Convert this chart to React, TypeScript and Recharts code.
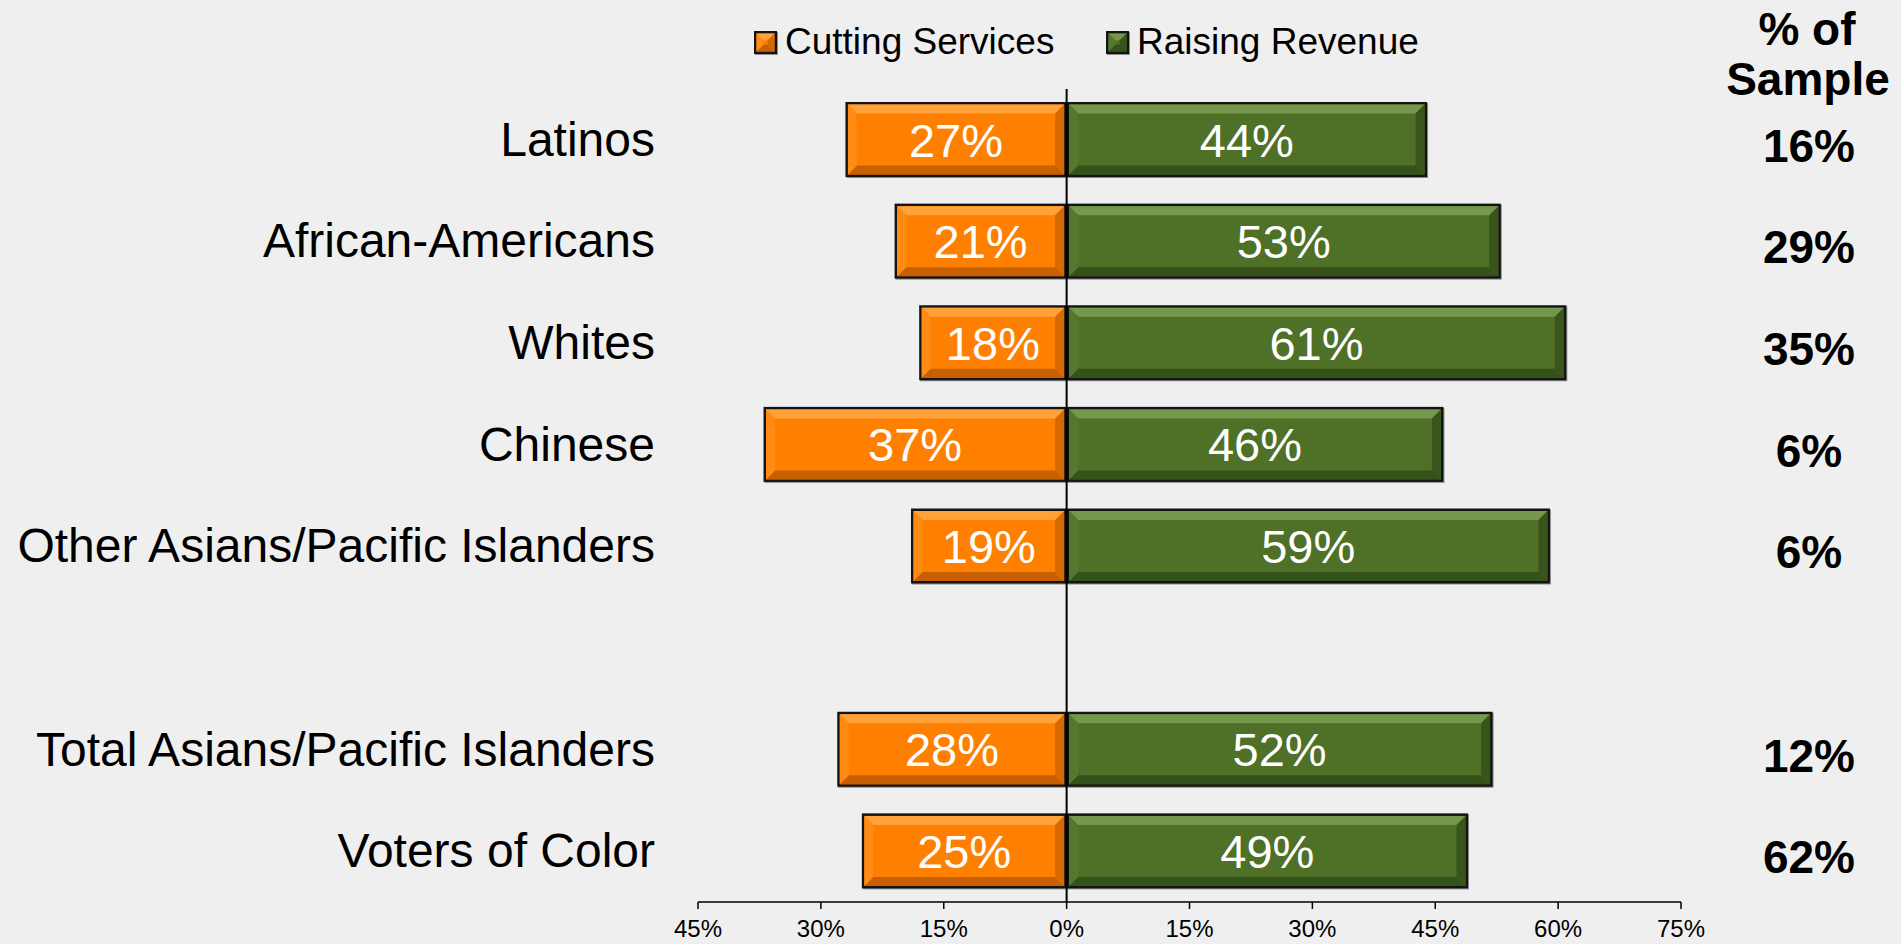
import React from 'react'
import {
  BarChart,
  Bar,
  XAxis,
  YAxis,
  LabelList,
  ReferenceLine,
} from 'recharts'

const FONT = '"Liberation Sans", Arial, sans-serif'

// '' is the empty spacer row between the groups
const categories = [
  'Latinos',
  'African-Americans',
  'Whites',
  'Chinese',
  'Other Asians/Pacific Islanders',
  '',
  'Total Asians/Pacific Islanders',
  'Voters of Color',
]
const cuttingServices = [27, 21, 18, 37, 19, null, 28, 25]
const raisingRevenue = [44, 53, 61, 46, 59, null, 52, 49]
const sampleShare = ['16%', '29%', '35%', '6%', '6%', '', '12%', '62%']
const xTicks = [-45, -30, -15, 0, 15, 30, 45, 60, 75]

const data = categories.map((name, i) => ({
  name,
  cut: cuttingServices[i] == null ? null : -(cuttingServices[i] as number),
  raise: raisingRevenue[i],
}))

interface Palette {
  base: string
  top: string
  bottom: string
  left: string
  right: string
}

const orange: Palette = {
  base: '#FF7F00',
  top: '#FFA23A',
  bottom: '#C85F00',
  left: '#FF8A14',
  right: '#D66A00',
}
const green: Palette = {
  base: '#4F7027',
  top: '#76984C',
  bottom: '#36521B',
  left: '#56782D',
  right: '#39551C',
}

function Bevel({ x, y, w, h, p, b = 9, edge = 2.5 }: any) {
  const ix = x + edge
  const iy = y + edge
  const iw = w - edge * 2
  const ih = h - edge * 2
  const bb = Math.min(b, iw / 2, ih / 2)
  return (
    <g>
      <rect x={x + 1} y={y + 1} width={w} height={h} fill="#8a8a8a" />
      <rect x={x} y={y} width={w} height={h} fill="#141414" />
      <rect x={ix} y={iy} width={iw} height={ih} fill={p.base} />
      <polygon
        points={`${ix},${iy} ${ix + iw},${iy} ${ix + iw - bb},${iy + bb} ${ix + bb},${iy + bb}`}
        fill={p.top}
      />
      <polygon
        points={`${ix},${iy + ih} ${ix + iw},${iy + ih} ${ix + iw - bb},${iy + ih - bb} ${ix + bb},${iy + ih - bb}`}
        fill={p.bottom}
      />
      <polygon
        points={`${ix},${iy} ${ix + bb},${iy + bb} ${ix + bb},${iy + ih - bb} ${ix},${iy + ih}`}
        fill={p.left}
      />
      <polygon
        points={`${ix + iw},${iy} ${ix + iw - bb},${iy + bb} ${ix + iw - bb},${iy + ih - bb} ${ix + iw},${iy + ih}`}
        fill={p.right}
      />
    </g>
  )
}

const makeShape = (p: Palette) => (props: any) => {
  let { x, y, width, height } = props
  if (width == null || height == null) return null
  if (width < 0) {
    x += width
    width = -width
  }
  if (width < 1) return null
  return <Bevel x={x} y={y} w={width} h={height} p={p} />
}

const barLabel = (props: any) => {
  const { x, y, width, height, value } = props
  if (value == null) return null
  return (
    <text
      x={x + width / 2}
      y={y + height / 2 + 17}
      textAnchor="middle"
      fill="#ffffff"
      fontSize={47}
      fontFamily={FONT}
    >
      {Math.abs(value)}%
    </text>
  )
}

const CategoryTick = ({ x, y, payload }: any) => (
  <text x={x} y={y + 16} textAnchor="end" fill="#000" fontSize={48} fontFamily={FONT}>
    {payload.value}
  </text>
)

const SampleTick = ({ x, y, index }: any) => (
  <text
    x={x + 128}
    y={y + 22}
    textAnchor="middle"
    fill="#000"
    fontSize={46}
    fontWeight="bold"
    fontFamily={FONT}
  >
    {sampleShare[index]}
  </text>
)

const PercentTick = ({ x, y, payload }: any) => (
  <text x={x} y={y + 26} textAnchor="middle" fill="#000" fontSize={24} fontFamily={FONT}>
    {Math.abs(payload.value)}%
  </text>
)

export default function App() {
  return (
    <div
      style={{
        position: 'absolute',
        left: 0,
        top: 0,
        width: 1901,
        height: 944,
        background: '#EFEFEF',
        overflow: 'hidden',
      }}
    >
      <BarChart
        width={1901}
        height={944}
        data={data}
        layout="vertical"
        stackOffset="sign"
        barSize={75}
        margin={{ top: 89, right: 0, bottom: 0, left: 0 }}
      >
        <XAxis
          type="number"
          domain={[-45, 75]}
          ticks={xTicks}
          interval={0}
          height={42}
          tick={<PercentTick />}
          tickSize={7}
          axisLine={{ stroke: '#000', strokeWidth: 1.5 }}
          tickLine={{ stroke: '#000', strokeWidth: 1.5 }}
        />
        <YAxis
          type="category"
          dataKey="name"
          width={698}
          axisLine={false}
          tickLine={false}
          tickSize={0}
          tickMargin={43}
          interval={0}
          tick={<CategoryTick />}
        />
        <YAxis
          yAxisId="right"
          orientation="right"
          type="category"
          dataKey="name"
          width={220}
          axisLine={false}
          tickLine={false}
          tickSize={0}
          tickMargin={0}
          interval={0}
          tick={<SampleTick />}
        />
        <Bar
          dataKey="cut"
          stackId="s"
          name="Cutting Services"
          shape={makeShape(orange)}
          isAnimationActive={false}
        >
          <LabelList dataKey="cut" content={barLabel} />
        </Bar>
        <Bar
          dataKey="raise"
          stackId="s"
          name="Raising Revenue"
          shape={makeShape(green)}
          isAnimationActive={false}
        >
          <LabelList dataKey="raise" content={barLabel} />
        </Bar>
        <ReferenceLine x={0} stroke="#000" strokeWidth={2} />
      </BarChart>

      {/* legend and right column header */}
      <svg
        width={1901}
        height={130}
        style={{ position: 'absolute', left: 0, top: 0, pointerEvents: 'none' }}
      >
        <Bevel x={754} y={31} w={23} h={23} p={orange} b={7} edge={2.5} />
        <text x={785} y={54} fontSize={37} fontFamily={FONT} fill="#000">
          Cutting Services
        </text>
        <Bevel x={1106} y={31} w={23} h={23} p={green} b={7} edge={2.5} />
        <text x={1137} y={54} fontSize={37} fontFamily={FONT} fill="#000">
          Raising Revenue
        </text>
        <text
          x={1807}
          y={45}
          textAnchor="middle"
          fontSize={46}
          fontWeight="bold"
          fontFamily={FONT}
          fill="#000"
        >
          % of
        </text>
        <text
          x={1808}
          y={95}
          textAnchor="middle"
          fontSize={46}
          fontWeight="bold"
          fontFamily={FONT}
          fill="#000"
        >
          Sample
        </text>
      </svg>
    </div>
  )
}
